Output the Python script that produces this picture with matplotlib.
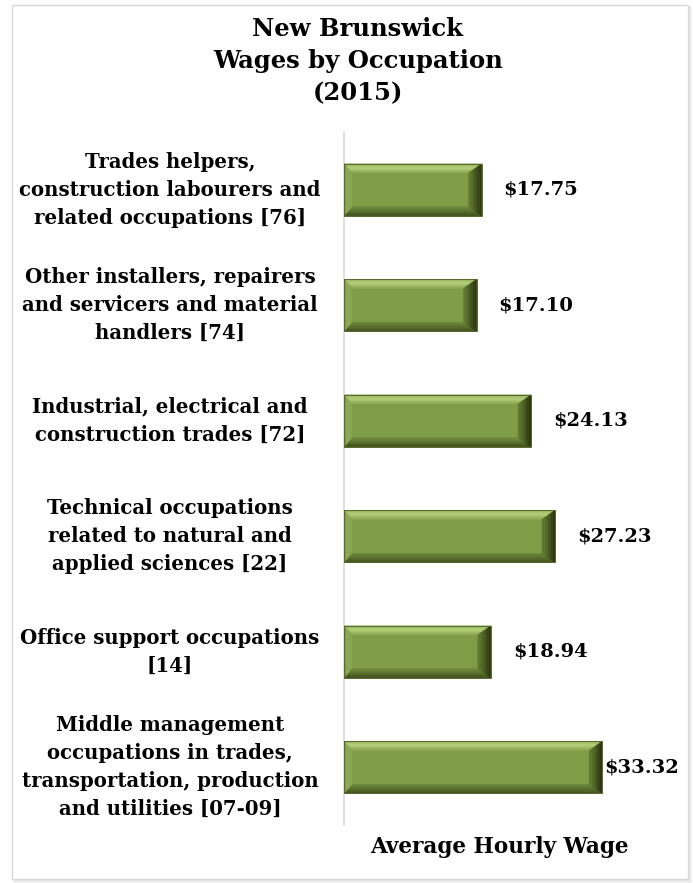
import matplotlib
matplotlib.use("Agg")
import matplotlib.pyplot as plt
from matplotlib.patches import Polygon, Rectangle
from matplotlib.colors import to_rgb
import numpy as np

categories = [
    "Trades helpers,\nconstruction labourers and\nrelated occupations [76]",
    "Other installers, repairers\nand servicers and material\nhandlers [74]",
    "Industrial, electrical and\nconstruction trades [72]",
    "Technical occupations\nrelated to natural and\napplied sciences [22]",
    "Office support occupations\n[14]",
    "Middle management\noccupations in trades,\ntransportation, production\nand utilities [07-09]",
]
wages = [17.75, 17.10, 24.13, 27.23, 18.94, 33.32]
value_labels = ["$17.75", "$17.10", "$24.13", "$27.23", "$18.94", "$33.32"]

title = "New Brunswick\nWages by Occupation\n(2015)"
xlabel = "Average Hourly Wage"

FONT = "DejaVu Serif"
W, H, DPI = 693, 883, 100
fig = plt.figure(figsize=(W / DPI, H / DPI), dpi=DPI)
fig.patch.set_facecolor("white")

# chart border with faint shadow
for off, col in [(3, "#f0f0f0"), (2, "#e8e8e8")]:
    fig.patches.append(Rectangle(((12 + off) / W, (H - 879 - off) / H), 676 / W, 874 / H,
                                 transform=fig.transFigure, fill=False, edgecolor=col, lw=1.2, zorder=0))
fig.patches.append(Rectangle((12 / W, (H - 879) / H), 676 / W, 874 / H,
                             transform=fig.transFigure, facecolor="white", edgecolor="#d9d9d9", lw=1, zorder=0))

ax_left, ax_right = 344, 654
ax_top, ax_bot = 132, 825
ax = fig.add_axes([ax_left / W, (H - ax_bot) / H, (ax_right - ax_left) / W, (ax_bot - ax_top) / H])
ax.set_facecolor("none")
ax.set_zorder(2)

n = len(categories)
pos = np.arange(n)[::-1]  # first category on top
bar_h = 0.45
xmax = 40
ax.set_xlim(0, xmax)
ax.set_ylim(-0.5, n - 0.5)

bars = ax.barh(pos, wages, height=bar_h, color="#7f9c47", edgecolor="none", zorder=2)

ppx = (ax_right - ax_left) / xmax
ppy = (ax_bot - ax_top) / n
bxl, bxr, by = 8 / ppx, 13 / ppx, 9 / ppy


def lerp_colors(stops, t):
    stops = [np.array(to_rgb(c)) for c in stops]
    seg = t * (len(stops) - 1)
    i = min(int(seg), len(stops) - 2)
    f = seg - i
    return tuple(stops[i] * (1 - f) + stops[i + 1] * f)


def bevel(outer_a, outer_b, inner_b, inner_a, stops, k=10):
    oa, ob, ib, ia = map(np.array, (outer_a, outer_b, inner_b, inner_a))
    for j in range(k):
        t0, t1 = j / k, (j + 1) / k
        p = [oa + (ia - oa) * t0, ob + (ib - ob) * t0, ob + (ib - ob) * t1, oa + (ia - oa) * t1]
        c = lerp_colors(stops, (t0 + t1) / 2)
        ax.add_patch(Polygon(p, closed=True, facecolor=c, edgecolor=c, lw=0.3, zorder=3))


for rect in bars:
    x0, y0 = rect.get_x(), rect.get_y()
    x1, y1 = x0 + rect.get_width(), y0 + rect.get_height()
    bevel((x0, y1), (x1, y1), (x1 - bxr, y1 - by), (x0 + bxl, y1 - by),
          ["#8aa751", "#a9c56f", "#b9d47f", "#a2bf66", "#8ba953"])
    bevel((x0, y0), (x1, y0), (x1 - bxr, y0 + by), (x0 + bxl, y0 + by),
          ["#3c4b1c", "#4e6227", "#5f7732", "#70893c"])
    bevel((x0, y0), (x0, y1), (x0 + bxl, y1 - by), (x0 + bxl, y0 + by),
          ["#7c9845", "#8eab55", "#86a34e"], k=4)
    bevel((x1, y0), (x1, y1), (x1 - bxr, y1 - by), (x1 - bxr, y0 + by),
          ["#27310f", "#3a4819", "#526628", "#647c32"], k=6)
    ax.add_patch(Rectangle((x0, y0), x1 - x0, y1 - y0, fill=False, edgecolor="#56692c", lw=0.7, zorder=5))

for i, (rect, lab) in enumerate(zip(bars, value_labels)):
    off = 2 if i == n - 1 else 22
    ax.annotate(lab, (rect.get_width(), rect.get_y() + rect.get_height() / 2),
                xytext=(off * 72 / DPI, 0), textcoords="offset points",
                ha="left", va="center", fontsize=14, fontweight="bold", family=FONT, color="black")

ax.set_yticks(pos)
ax.set_yticklabels(categories, ha="center", va="center", fontsize=14.2, fontweight="bold", family=FONT,
                   linespacing=1.5)
ax.tick_params(axis="y", length=0, pad=(ax_left - 170) * 72 / DPI)
ax.set_xticks([])

for s in ["top", "right", "bottom"]:
    ax.spines[s].set_visible(False)
ax.spines["left"].set_color("#d9d9d9")
ax.spines["left"].set_linewidth(1.2)

ax.set_xlabel(xlabel, fontsize=15.5, fontweight="bold", family=FONT, labelpad=8)

fig.text(358 / W, 1 - 17 / H, title, ha="center", va="top", fontsize=17.5, fontweight="bold",
         family=FONT, linespacing=1.42)

fig.savefig("out.png", dpi=DPI)
